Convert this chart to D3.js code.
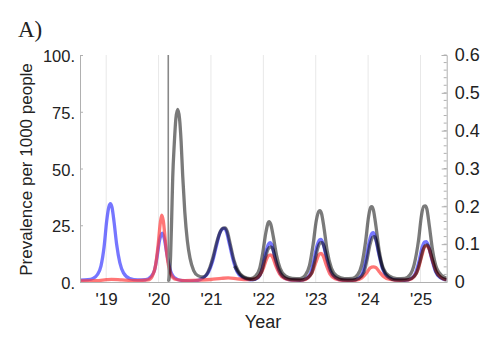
<!DOCTYPE html>
<html><head><meta charset="utf-8">
<script src="https://cdn.jsdelivr.net/npm/d3@7"></script>
<style>body{margin:0;background:#fff}svg{display:block}</style>
</head><body>
<svg id="c" width="480" height="346"></svg>
<script>
const yearTicks = [2019, 2020, 2021, 2022, 2023, 2024, 2025];
const yearLabels = ["'19", "'20", "'21", "'22", "'23", "'24", "'25"];
const leftTicks = [0, 25, 50, 75, 100];
const leftLabels = ["0.", "25.", "50.", "75.", "100."];
const rightTicks = [0, 0.1, 0.2, 0.3, 0.4, 0.5, 0.6];
const rightLabels = ["0", "0.1", "0.2", "0.3", "0.4", "0.5", "0.6"];
const markerYear = 2020.185;

const blueSeries = [[2018.5,0.8],[2018.65,1.0],[2018.75,1.6],[2018.83,3.2],[2018.9,7],[2018.96,15.5],[2019.01,27],[2019.05,33],[2019.08,34.5],[2019.11,33],[2019.15,26.5],[2019.2,16.5],[2019.26,8.5],[2019.33,4],[2019.45,1.5],[2019.6,0.9],[2019.75,1.0],[2019.85,2.3],[2019.92,5],[2019.97,11],[2020.02,18.5],[2020.07,21.5],[2020.11,19],[2020.16,12],[2020.22,5.5],[2020.3,2],[2020.45,0.6],[2020.6,0.4],[2020.75,0.7],[2020.85,1.8],[2020.95,4.2],[2021.03,9],[2021.1,15.5],[2021.17,21.5],[2021.22,23.4],[2021.25,23.6],[2021.29,22.5],[2021.35,17],[2021.42,10],[2021.5,4.5],[2021.6,1.9],[2021.75,0.9],[2021.85,1.2],[2021.93,2.8],[2021.98,6],[2022.04,12.5],[2022.1,16.8],[2022.13,17.3],[2022.17,15.8],[2022.22,10.5],[2022.28,5.5],[2022.36,2.5],[2022.5,0.9],[2022.7,0.7],[2022.82,1.5],[2022.9,3.8],[2022.96,9],[2023.02,15.5],[2023.07,18.5],[2023.1,18.8],[2023.14,17],[2023.2,11],[2023.26,5.5],[2023.35,2.2],[2023.5,0.8],[2023.7,0.7],[2023.82,1.6],[2023.9,4.3],[2023.96,10],[2024.02,17.5],[2024.07,21.3],[2024.1,21.7],[2024.14,19.5],[2024.2,12.8],[2024.27,6.2],[2024.36,2.5],[2024.5,0.9],[2024.7,0.7],[2024.82,1.5],[2024.9,3.7],[2024.97,9],[2025.03,15.2],[2025.08,17.6],[2025.11,17.8],[2025.15,16],[2025.21,10.5],[2025.28,5],[2025.37,2],[2025.5,0.9]];

const redSeries = [[2018.5,0.5],[2018.8,0.6],[2019.0,1.0],[2019.1,1.2],[2019.3,0.9],[2019.6,0.6],[2019.8,0.9],[2019.88,2.6],[2019.94,7],[2019.99,16],[2020.03,25.5],[2020.06,29.5],[2020.09,27],[2020.13,18],[2020.18,8.5],[2020.24,3.2],[2020.32,1.2],[2020.5,0.6],[2020.8,0.8],[2021.0,1.1],[2021.2,1.6],[2021.33,1.8],[2021.5,1.4],[2021.7,1.1],[2021.85,1.5],[2021.93,3],[2022.0,6],[2022.06,10],[2022.11,11.8],[2022.14,11.9],[2022.18,10.8],[2022.24,7],[2022.31,3.6],[2022.4,1.6],[2022.55,0.8],[2022.75,0.8],[2022.85,1.8],[2022.93,4.2],[2023.0,8.5],[2023.06,12],[2023.1,12.6],[2023.14,11.6],[2023.2,7.5],[2023.27,3.6],[2023.37,1.5],[2023.55,0.7],[2023.75,0.7],[2023.88,1.8],[2023.97,4],[2024.04,6.2],[2024.1,6.7],[2024.15,6.3],[2024.22,4.3],[2024.3,2.3],[2024.42,1.1],[2024.6,0.7],[2024.78,0.9],[2024.88,2.4],[2024.96,6],[2025.03,12],[2025.08,15.5],[2025.12,15.9],[2025.16,14.8],[2025.22,10.2],[2025.3,4.8],[2025.4,1.9],[2025.5,1.0]];

const graySeries = [[2020.19,0.3],[2020.21,3],[2020.23,12],[2020.25,28],[2020.27,46],[2020.3,61],[2020.33,72],[2020.365,76],[2020.4,72],[2020.43,62],[2020.46,47],[2020.5,31],[2020.55,18],[2020.6,10.5],[2020.67,5],[2020.75,2.8],[2020.85,2.2],[2020.92,3.5],[2020.98,6.5],[2021.04,11],[2021.11,17.5],[2021.18,22.3],[2021.23,23.7],[2021.27,23.8],[2021.31,22.3],[2021.37,16.5],[2021.44,9.5],[2021.52,4.8],[2021.62,2.3],[2021.75,1.5],[2021.85,2.6],[2021.93,6],[2021.99,13],[2022.05,22],[2022.09,26],[2022.11,26.6],[2022.14,25.5],[2022.19,20],[2022.25,12],[2022.32,6],[2022.42,2.7],[2022.55,1.6],[2022.7,1.5],[2022.8,3],[2022.88,7.2],[2022.95,16.5],[2023.01,27],[2023.06,31.2],[2023.08,31.4],[2023.11,30.2],[2023.16,23.5],[2023.22,13.5],[2023.3,6],[2023.4,2.7],[2023.55,1.5],[2023.7,1.6],[2023.8,3.2],[2023.88,7.8],[2023.95,17.5],[2024.01,29],[2024.05,32.9],[2024.07,33.2],[2024.1,31.8],[2024.15,24.5],[2024.21,14],[2024.29,6],[2024.4,2.7],[2024.55,1.5],[2024.7,1.6],[2024.8,3.2],[2024.88,7.8],[2024.96,18],[2025.02,29.5],[2025.06,33.3],[2025.09,33.5],[2025.12,32.3],[2025.17,24.5],[2025.23,14],[2025.31,6],[2025.42,2.6],[2025.5,1.7]];

const darkSeries = [[2021.45,7],[2021.55,3.4],[2021.65,1.7],[2021.8,1.1],[2021.9,2.1],[2021.97,4.8],[2022.03,10],[2022.09,14.5],[2022.14,15.5],[2022.18,14.5],[2022.23,10.2],[2022.3,5.4],[2022.38,2.4],[2022.52,1.0],[2022.7,0.8],[2022.83,1.6],[2022.92,3.8],[2022.98,9],[2023.04,15],[2023.09,17.2],[2023.12,17.3],[2023.16,15.5],[2023.22,10],[2023.29,4.8],[2023.38,2],[2023.52,0.9],[2023.7,0.8],[2023.83,1.7],[2023.92,4.3],[2023.98,10],[2024.04,16.8],[2024.09,19.8],[2024.12,20],[2024.16,17.8],[2024.22,11.2],[2024.29,5.4],[2024.38,2.3],[2024.52,0.9],[2024.7,0.8],[2024.83,1.6],[2024.92,3.8],[2024.99,9],[2025.05,14.3],[2025.1,16.2],[2025.13,16.3],[2025.17,14.5],[2025.23,9.5],[2025.3,4.3],[2025.4,1.8],[2025.5,0.9]];

const svg = d3.select("#c");
const L = 80, R = 446.7, T = 55, B = 282;
const x = d3.scaleLinear().domain([2018.5, 2025.5]).range([L, R]);
const y = d3.scaleLinear().domain([0, 100]).range([B, T]);
const yR = d3.scaleLinear().domain([0, 0.6]).range([B, T]);

// gridlines
svg.append("g").selectAll("line").data(yearTicks).join("line")
  .attr("x1", d => x(d)).attr("x2", d => x(d)).attr("y1", T).attr("y2", B)
  .attr("stroke", "#e8e8e8").attr("stroke-width", 1);

svg.append("defs").append("clipPath").attr("id", "clip")
  .append("rect").attr("x", L).attr("y", T - 2).attr("width", R - L).attr("height", B - T + 4);

const line = d3.line().x(d => x(d[0])).y(d => y(d[1])).curve(d3.curveMonotoneX);
const g = svg.append("g").attr("clip-path", "url(#clip)");
const series = [
  {data: blueSeries, color: "rgba(60,60,255,0.7)"},
  {data: redSeries, color: "rgba(255,60,60,0.7)"},
  {data: graySeries, color: "rgba(0,0,0,0.52)"},
  {data: darkSeries, color: "rgba(0,0,0,0.5)"}
];
g.selectAll("path").data(series).join("path")
  .attr("d", d => line(d.data)).attr("fill", "none")
  .attr("stroke", d => d.color).attr("stroke-width", 3.3)
  .attr("stroke-linejoin", "round");

// marker line
svg.append("line").attr("x1", x(markerYear)).attr("x2", x(markerYear))
  .attr("y1", T).attr("y2", B).attr("stroke", "#888").attr("stroke-width", 1.6);

// axes
const axisColor = "#b0b0b0";
const font = "Liberation Sans, Arial, sans-serif";
const xAxis = d3.axisBottom(x).tickValues(yearTicks).tickSize(0).tickFormat((d, i) => yearLabels[i]);
const gx = svg.append("g").attr("transform", `translate(0,${B})`).call(xAxis);
gx.select(".domain").attr("stroke", axisColor);
gx.selectAll("text").attr("font-family", font).attr("font-size", 17)
  .attr("fill", "#222").attr("dy", "1.15em");

const yAxis = d3.axisLeft(y).tickValues(leftTicks).tickSize(-3).tickPadding(5).tickFormat((d, i) => leftLabels[i]);
const gy = svg.append("g").attr("transform", `translate(${L},0)`).call(yAxis);
gy.select(".domain").attr("stroke", axisColor);
gy.selectAll(".tick line").attr("stroke", axisColor);
gy.selectAll("text").attr("font-family", font).attr("font-size", 16.5).attr("fill", "#222").attr("dy", "0.4em");

const yRAxis = d3.axisRight(yR).tickValues(rightTicks).tickSize(-5).tickPadding(8).tickFormat((d, i) => rightLabels[i]);
const gr = svg.append("g").attr("transform", `translate(${R},0)`).call(yRAxis);
gr.select(".domain").attr("stroke", axisColor);
gr.selectAll(".tick line").attr("stroke", axisColor);
gr.selectAll("text").attr("font-family", font).attr("font-size", 18).attr("fill", "#222");
const minor = d3.range(0, 0.601, 0.02);
gr.append("g").selectAll("line").data(minor).join("line")
  .attr("x1", 0).attr("x2", -3).attr("y1", d => yR(d)).attr("y2", d => yR(d))
  .attr("stroke", axisColor);

// labels
svg.append("text").attr("x", 263).attr("y", 328).attr("text-anchor", "middle")
  .attr("font-family", font).attr("font-size", 18).attr("fill", "#222").text("Year");
svg.append("text").attr("transform", `translate(32,${(T + B) / 2 + 1}) rotate(-90)`).attr("text-anchor", "middle")
  .attr("font-family", font).attr("font-size", 17).attr("fill", "#222")
  .text("Prevalence per 1000 people");
svg.append("text").attr("x", 18).attr("y", 37)
  .attr("font-family", "Liberation Serif, Times New Roman, serif").attr("font-size", 23).attr("fill", "#222").text("A)");
</script>
</body></html>
